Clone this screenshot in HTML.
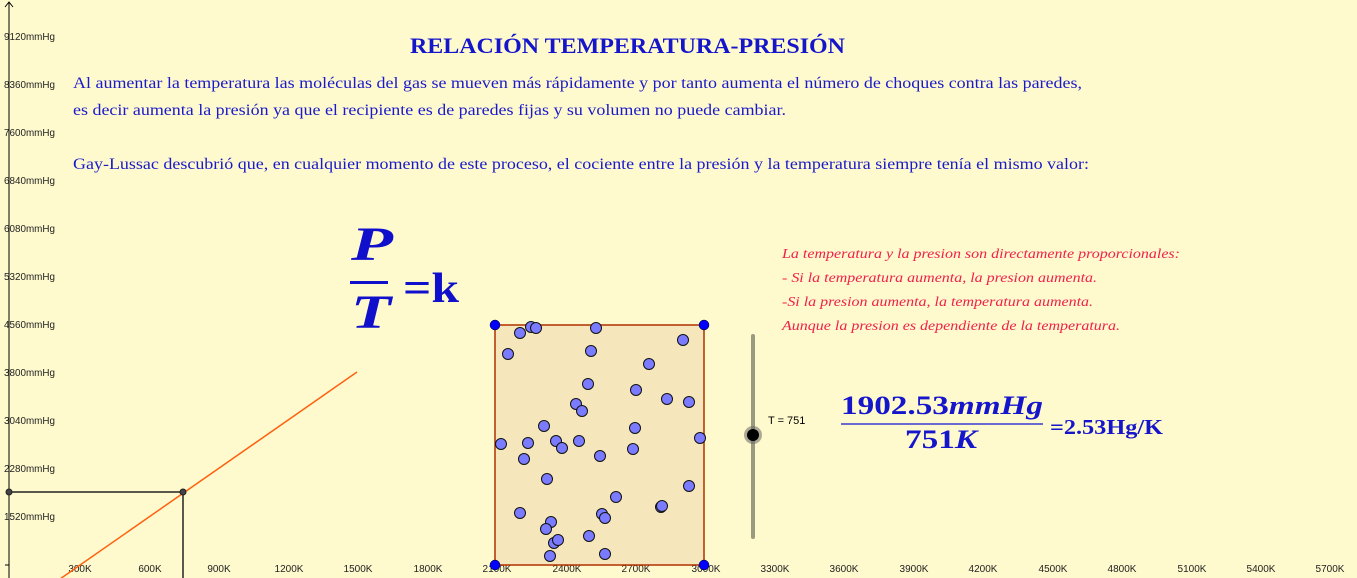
<!DOCTYPE html>
<html><head><meta charset="utf-8"><style>
html,body{margin:0;padding:0;background:#fffacd;}
svg{display:block;}
</style></head><body>
<svg width="1357" height="578" viewBox="0 0 1357 578" xmlns="http://www.w3.org/2000/svg">
<rect width="1357" height="578" fill="#fffacd"/>
<line x1="9" y1="2" x2="9" y2="578" stroke="#000" stroke-width="1"/>
<polyline points="5,7 9,2 13,7" fill="none" stroke="#000" stroke-width="1"/>
<line x1="5" y1="565" x2="9" y2="565" stroke="#000" stroke-width="1"/>
<g font-family="Liberation Sans, sans-serif" font-size="10" fill="#222">
<text x="4" y="40" textLength="51" lengthAdjust="spacingAndGlyphs">9120mmHg</text>
<text x="4" y="88" textLength="51" lengthAdjust="spacingAndGlyphs">8360mmHg</text>
<text x="4" y="136" textLength="51" lengthAdjust="spacingAndGlyphs">7600mmHg</text>
<text x="4" y="184" textLength="51" lengthAdjust="spacingAndGlyphs">6840mmHg</text>
<text x="4" y="232" textLength="51" lengthAdjust="spacingAndGlyphs">6080mmHg</text>
<text x="4" y="280" textLength="51" lengthAdjust="spacingAndGlyphs">5320mmHg</text>
<text x="4" y="328" textLength="51" lengthAdjust="spacingAndGlyphs">4560mmHg</text>
<text x="4" y="376" textLength="51" lengthAdjust="spacingAndGlyphs">3800mmHg</text>
<text x="4" y="424" textLength="51" lengthAdjust="spacingAndGlyphs">3040mmHg</text>
<text x="4" y="472" textLength="51" lengthAdjust="spacingAndGlyphs">2280mmHg</text>
<text x="4" y="520" textLength="51" lengthAdjust="spacingAndGlyphs">1520mmHg</text>
</g>
<g font-family="Liberation Sans, sans-serif" font-size="10" fill="#222" text-anchor="middle">
<text x="80" y="572">300K</text><text x="150" y="572">600K</text><text x="219" y="572">900K</text>
<text x="289" y="572">1200K</text><text x="358" y="572">1500K</text><text x="428" y="572">1800K</text>
<text x="497" y="572">2100K</text><text x="567" y="572">2400K</text><text x="636" y="572">2700K</text>
<text x="706" y="572">3000K</text><text x="775" y="572">3300K</text><text x="844" y="572">3600K</text>
<text x="914" y="572">3900K</text><text x="983" y="572">4200K</text><text x="1053" y="572">4500K</text>
<text x="1122" y="572">4800K</text><text x="1192" y="572">5100K</text><text x="1261" y="572">5400K</text>
<text x="1330" y="572">5700K</text>
</g>
<line x1="60" y1="579" x2="357" y2="372" stroke="#ff6010" stroke-width="1.5"/>
<polyline points="9,492 183,492 183,578" fill="none" stroke="#222" stroke-width="1.5"/>
<circle cx="9" cy="492" r="3" fill="#444" stroke="#222"/>
<circle cx="183" cy="492" r="3" fill="#444" stroke="#222"/>
<text x="410" y="53" textLength="435" lengthAdjust="spacingAndGlyphs" font-family="Liberation Serif, serif" font-weight="bold" font-size="22" fill="#1515cc">RELACIÓN TEMPERATURA-PRESIÓN</text>
<g font-family="Liberation Serif, serif" font-size="16" fill="#1a1acc">
<text x="73" y="88" textLength="1009" lengthAdjust="spacingAndGlyphs">Al aumentar la temperatura las moléculas del gas se mueven más rápidamente y por tanto aumenta el número de choques contra las paredes,</text>
<text x="73" y="115" textLength="713" lengthAdjust="spacingAndGlyphs">es decir aumenta la presión ya que el recipiente es de paredes fijas y su volumen no puede cambiar.</text>
<text x="73" y="169" textLength="1016" lengthAdjust="spacingAndGlyphs">Gay-Lussac descubrió que, en cualquier momento de este proceso, el cociente entre la presión y la temperatura siempre tenía el mismo valor:</text>
</g>
<g font-family="Liberation Serif, serif" font-weight="bold" fill="#1010cc">
<text x="351" y="260" font-style="italic" font-size="48" textLength="42" lengthAdjust="spacingAndGlyphs">P</text>
<rect x="350" y="281" width="38" height="3" fill="#1010cc"/>
<text x="351" y="328" font-style="italic" font-size="48" textLength="40" lengthAdjust="spacingAndGlyphs">T</text>
<text x="403" y="302" font-size="42" textLength="56" lengthAdjust="spacingAndGlyphs">=k</text>
</g>
<g font-family="Liberation Serif, serif" font-style="italic" font-size="14" fill="#f0204a">
<text x="782" y="258" textLength="398" lengthAdjust="spacingAndGlyphs">La temperatura y la presion son directamente proporcionales:</text>
<text x="782" y="282" textLength="315" lengthAdjust="spacingAndGlyphs">- Si la temperatura aumenta, la presion aumenta.</text>
<text x="782" y="306" textLength="311" lengthAdjust="spacingAndGlyphs">-Si la presion aumenta, la temperatura aumenta.</text>
<text x="782" y="330" textLength="338" lengthAdjust="spacingAndGlyphs">Aunque la presion es dependiente de la temperatura.</text>
</g>
<rect x="495" y="325" width="209" height="240" fill="#f5e6bc" stroke="#b03000" stroke-width="1.5"/>
<g fill="#7b7bff" stroke="#111" stroke-width="1">
<circle cx="531" cy="327" r="5.5"/><circle cx="536" cy="328" r="5.5"/><circle cx="520" cy="333" r="5.5"/>
<circle cx="596" cy="328" r="5.5"/><circle cx="508" cy="354" r="5.5"/><circle cx="683" cy="340" r="5.5"/>
<circle cx="591" cy="351" r="5.5"/><circle cx="649" cy="364" r="5.5"/><circle cx="588" cy="384" r="5.5"/>
<circle cx="636" cy="390" r="5.5"/><circle cx="667" cy="399" r="5.5"/><circle cx="689" cy="402" r="5.5"/>
<circle cx="576" cy="404" r="5.5"/><circle cx="582" cy="411" r="5.5"/><circle cx="544" cy="426" r="5.5"/>
<circle cx="635" cy="428" r="5.5"/><circle cx="501" cy="444" r="5.5"/><circle cx="528" cy="443" r="5.5"/>
<circle cx="556" cy="441" r="5.5"/><circle cx="562" cy="448" r="5.5"/><circle cx="579" cy="441" r="5.5"/>
<circle cx="700" cy="438" r="5.5"/><circle cx="524" cy="459" r="5.5"/><circle cx="600" cy="456" r="5.5"/>
<circle cx="633" cy="449" r="5.5"/><circle cx="547" cy="479" r="5.5"/><circle cx="689" cy="486" r="5.5"/>
<circle cx="616" cy="497" r="5.5"/><circle cx="661" cy="507" r="5.5"/><circle cx="662" cy="506" r="5.5"/>
<circle cx="520" cy="513" r="5.5"/><circle cx="602" cy="514" r="5.5"/><circle cx="605" cy="518" r="5.5"/>
<circle cx="551" cy="522" r="5.5"/><circle cx="546" cy="529" r="5.5"/><circle cx="589" cy="536" r="5.5"/>
<circle cx="554" cy="543" r="5.5"/><circle cx="558" cy="540" r="5.5"/><circle cx="550" cy="556" r="5.5"/>
<circle cx="605" cy="554" r="5.5"/>
</g>
<g fill="#0000ff" stroke="#000" stroke-width="0.5">
<circle cx="495" cy="325" r="5"/><circle cx="704" cy="325" r="5"/>
<circle cx="495" cy="565" r="5"/><circle cx="704" cy="565" r="5"/>
</g>
<line x1="753" y1="336" x2="753" y2="537" stroke="#9a9a80" stroke-width="4" stroke-linecap="round"/>
<circle cx="753" cy="435" r="9" fill="#666" opacity="0.55"/>
<circle cx="753" cy="435" r="6" fill="#000"/>
<text x="768" y="424" font-family="Liberation Sans, sans-serif" font-size="11" fill="#000">T = 751</text>
<g font-family="Liberation Serif, serif" font-weight="bold" fill="#1515cc">
<text x="841" y="414" font-size="26" textLength="202" lengthAdjust="spacingAndGlyphs"><tspan>1902.53</tspan><tspan font-style="italic">mmHg</tspan></text>
<rect x="841" y="423" width="202" height="2" fill="#6a6ad0"/>
<text x="905" y="448" font-size="26" textLength="72" lengthAdjust="spacingAndGlyphs"><tspan>751</tspan><tspan font-style="italic">K</tspan></text>
<text x="1050" y="434" font-size="21" textLength="113" lengthAdjust="spacingAndGlyphs">=2.53Hg/K</text>
</g>
</svg>
</body></html>
